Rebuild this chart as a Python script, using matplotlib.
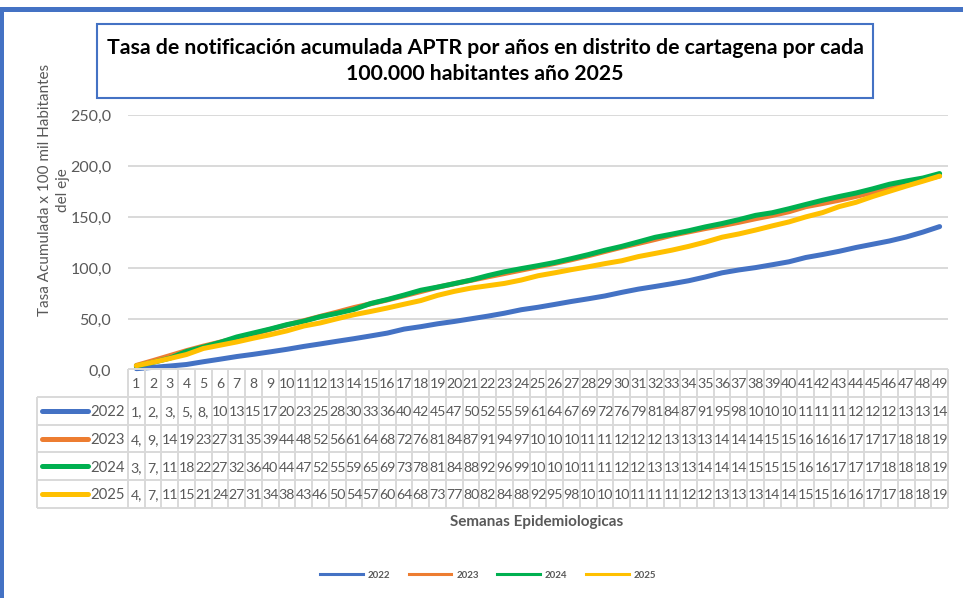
import matplotlib
matplotlib.use("Agg")
import matplotlib.pyplot as plt
from matplotlib.patches import Rectangle
from matplotlib.lines import Line2D

plt.rcParams['font.family'] = ['Lato', 'DejaVu Sans']

weeks = list(range(1, 50))
years = ["2022", "2023", "2024", "2025"]
colors = ["#4472C4", "#ED7D31", "#00B050", "#FFC000"]

y2022 = [1.3, 2.6, 3.9, 5.4, 8.1, 10.6, 13.2, 15.4, 17.8, 20.3, 23.1, 25.6, 28.2, 30.7, 33.4, 36.2,
         40.1, 42.5, 45.3, 47.6, 50.2, 52.8, 55.7, 59.1, 61.5, 64.3, 67.2, 69.8, 72.6, 76.1, 79.3,
         81.9, 84.6, 87.5, 91.2, 95.3, 98.1, 100.4, 103.2, 106.1, 110.3, 113.2, 116.4, 120.1,
         123.3, 126.5, 130.4, 135.2, 140.6]
y2023 = [4.5, 9.2, 14.1, 19.0, 23.4, 27.3, 31.2, 35.5, 39.8, 44.1, 48.3, 52.6, 56.8, 61.2, 64.9,
         68.7, 72.8, 76.9, 81.1, 84.6, 87.9, 91.3, 94.6, 97.9, 101.2, 104.5, 108.1, 112.0, 116.2,
         120.3, 124.1, 128.0, 132.1, 135.4, 138.7, 141.6, 144.8, 148.3, 151.5, 155.2, 160.1,
         163.2, 166.5, 170.2, 174.1, 178.3, 182.4, 186.2, 190.3]
y2024 = [3.8, 7.5, 11.6, 18.2, 22.5, 27.1, 32.4, 36.3, 40.2, 44.5, 47.8, 52.3, 55.6, 59.4, 65.2,
         69.1, 73.5, 78.2, 81.3, 84.7, 88.2, 92.5, 96.3, 99.4, 102.3, 105.4, 109.2, 113.1, 117.4,
         121.2, 125.6, 130.1, 133.2, 136.5, 140.3, 143.6, 147.4, 151.6, 154.2, 158.1, 162.3,
         166.4, 170.1, 173.5, 177.6, 182.1, 185.3, 188.2, 192.6]
y2025 = [4.2, 7.6, 11.3, 15.2, 21.1, 24.3, 27.5, 31.2, 34.6, 38.4, 43.1, 46.2, 50.3, 54.2, 57.4,
         60.8, 64.5, 68.1, 73.2, 77.1, 80.3, 82.6, 84.9, 88.2, 92.4, 95.3, 98.4, 101.2, 104.3,
         107.1, 111.2, 114.3, 117.5, 121.2, 125.4, 130.2, 133.4, 137.2, 141.3, 145.2, 150.1,
         154.3, 160.2, 164.4, 170.1, 175.2, 180.3, 185.1, 190.1]
series = [y2022, y2023, y2024, y2025]
yticks = [0, 50, 100, 150, 200, 250]

title = "Tasa de notificación acumulada APTR por años en distrito de cartagena por cada\n100.000 habitantes año 2025"
ylabel = "Tasa Acumulada x 100 mil Habitantes\ndel eje"
xlabel = "Semanas Epidemiologicas"

W, H = 963, 598
fig = plt.figure(figsize=(W / 100, H / 100), dpi=100)
fig.patch.set_facecolor("white")


def rect(x0, y0, x1, y1):
    return [x0 / W, 1 - y1 / H, (x1 - x0) / W, (y1 - y0) / H]


def fx(px):
    return px / W


def fy(py):
    return 1 - py / H


txtgray = "#595959"
gridc = "#D9D9D9"

# outer blue frame (top and left)
fig.add_artist(Rectangle((0, fy(12)), 1, 5 / H, transform=fig.transFigure,
                         facecolor="#4472C4", edgecolor="none"))
fig.add_artist(Rectangle((0, 0), 3.5 / W, fy(7), transform=fig.transFigure,
                         facecolor="#4472C4", edgecolor="none"))

# main plot
ax = fig.add_axes(rect(128, 115, 948, 370))
ax.set_xlim(0.5, 49.5)
ax.set_ylim(0, 250)
for s in ax.spines.values():
    s.set_visible(False)
ax.set_xticks([])
ax.set_yticks(yticks)
ax.set_yticklabels([f"{t:.1f}".replace(".", ",") for t in yticks], fontsize=11.5, color=txtgray)
ax.tick_params(axis="y", length=0, pad=12)
ax.yaxis.grid(True, color=gridc, lw=1.4)
ax.set_axisbelow(True)
for ys, c in zip(series, colors):
    ax.plot(weeks, ys, color=c, lw=3.6, solid_capstyle="round", clip_on=False)

# y label
fig.text(fx(54), fy(190), ylabel, rotation=90, ha="center", va="center",
         multialignment="center", fontsize=11, color=txtgray, linespacing=1.35)

# data table
tax = fig.add_axes(rect(128, 369, 948, 508))
tax.set_xlim(0.5, 49.5)
tax.set_ylim(5, 0)
tax.axis("off")
cw = 820 / 49.0
xl = 0.5 - 91 / cw
lkw = dict(color=gridc, lw=1.4, clip_on=False, solid_capstyle="butt")
tax.plot([0.5, 49.5], [0, 0], **lkw)
for r in range(1, 6):
    tax.plot([xl, 49.5], [r, r], **lkw)
for k in range(50):
    tax.plot([0.5 + k, 0.5 + k], [0, 5], **lkw)
tax.plot([xl, xl], [1, 5], **lkw)

cell_fs = 10.2
for i in weeks:
    tax.text(i, 0.55, str(i), ha="center", va="center", fontsize=cell_fs, color=txtgray)
for j, (ys, c, yr) in enumerate(zip(series, colors, years)):
    row = j + 1.55
    for i, v in zip(weeks, ys):
        s = f"{v:.1f}".replace(".", ",")[:2]
        tax.text(i, row, s, ha="center", va="center", fontsize=cell_fs, color=txtgray)
    tax.plot([xl + 5 / cw, xl + 51 / cw], [j + 1.5, j + 1.5], color=c, lw=3.6,
             solid_capstyle="round", clip_on=False)
    tax.text(xl + 53 / cw, row, yr, ha="left", va="center", fontsize=cell_fs + 0.5, color=txtgray)

# x label
fig.text(fx(537), fy(522), xlabel, ha="center", va="center", fontsize=11,
         fontweight="bold", color=txtgray)

# legend
handles = [Line2D([0], [0], color=c, lw=2.2) for c in colors]
leg = fig.legend(handles, years, loc="center", bbox_to_anchor=(fx(488), fy(575)), ncol=4,
                 frameon=False, fontsize=7, handlelength=4.4, handletextpad=0.5,
                 columnspacing=1.9)
for t in leg.get_texts():
    t.set_color(txtgray)
    t.set_fontweight("bold")

# title box
fig.add_artist(Rectangle((fx(97), fy(98)), (873 - 97) / W, (98 - 24) / H,
                         transform=fig.transFigure, facecolor="white",
                         edgecolor="#4472C4", lw=1.5))
fig.text(fx(485), fy(61), title, ha="center", va="center", fontsize=15.3,
         fontweight="bold", color="black", linespacing=1.4)

fig.savefig("out.png", dpi=100, facecolor="white")
